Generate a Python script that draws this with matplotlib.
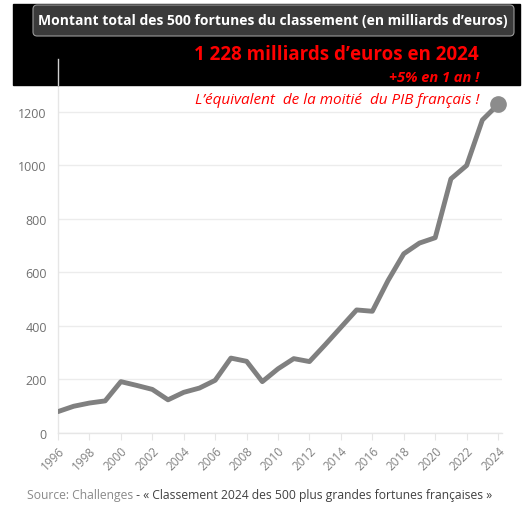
import matplotlib.pyplot as plt
from matplotlib.patches import Rectangle, FancyBboxPatch
from matplotlib.lines import Line2D

# montant total des 500 fortunes (milliards d'euros)
years = list(range(1996, 2025))
values = [80, 100, 112, 120, 192, 178, 163, 124, 152, 168,
          197, 280, 268, 192, 240, 278, 267, 330, 395, 460,
          455, 570, 670, 710, 730, 950, 1000, 1170, 1228]
yticks = [0, 200, 400, 600, 800, 1000, 1200]
xticks = list(range(1996, 2025, 2))

W, H = 526, 506
plt.rcParams['font.family'] = ['Open Sans', 'DejaVu Sans']

fig = plt.figure(figsize=(W / 100, H / 100), dpi=100)
ax = fig.add_axes([58 / W, 72 / H, 444 / W, 374 / H])

ax.plot(years, values, color='#808080', lw=3.5, solid_capstyle='round',
        solid_joinstyle='round', zorder=3)
ax.plot(years[-1], values[-1], 'o', ms=11, color='#8c8c8c', zorder=4,
        clip_on=False)

ax.set_xlim(1996, 2024.25)
ax.set_ylim(0, 1398)
ax.set_yticks(yticks)
ax.set_xticks(xticks)
ax.set_xticklabels([str(x) for x in xticks], rotation=45, ha='right',
                   va='top', rotation_mode='anchor')
ax.tick_params(axis='y', length=0, pad=8, labelsize=9, labelcolor='#707070')
ax.tick_params(axis='x', length=5, width=0.8, color='#e6e6e6', pad=3,
               labelsize=8.5, labelcolor='#808080')
ax.grid(axis='y', color='#ececec', lw=1)
for s in ['top', 'right']:
    ax.spines[s].set_visible(False)
for s in ['left', 'bottom']:
    ax.spines[s].set_color('#e6e6e6')
    ax.spines[s].set_linewidth(1)

# bandeau noir
fig.patches.append(Rectangle((13 / W, (H - 86) / H), 507 / W, 81 / H,
                             transform=fig.transFigure, color='black',
                             zorder=5))
fig.add_artist(Line2D([58 / W, 58 / W], [(H - 86) / H, (H - 60) / H],
                      transform=fig.transFigure, color='#d0d0d0', lw=1,
                      zorder=6))
fig.patches.append(FancyBboxPatch((33 / W, (H - 37) / H), 481 / W, 31 / H,
                                  boxstyle='round,pad=0,rounding_size=0.008',
                                  transform=fig.transFigure,
                                  facecolor='#3a3a3a', edgecolor='#9a9a9a',
                                  lw=0.8, zorder=6))
fig.text(273 / W, (H - 21) / H,
         "Montant total des 500 fortunes du classement (en milliards d\u2019euros)",
         color='white', fontsize=10, fontweight='bold', ha='center',
         va='center', zorder=7)
fig.text(479 / W, (H - 55) / H, "1 228 milliards d\u2019euros en 2024",
         color='#ff0000', fontsize=13.5, fontweight='bold', ha='right',
         va='center', zorder=7)
fig.text(479 / W, (H - 78) / H, "+5% en 1 an !", color='#ff0000',
         fontsize=10.5, fontweight='bold', style='italic', ha='right',
         va='center', zorder=7)
fig.text(479 / W, (H - 100) / H,
         "L\u2019\u00e9quivalent  de la moiti\u00e9  du PIB fran\u00e7ais !",
         color='#ff0000', fontsize=11, style='italic', ha='right',
         va='center', zorder=7)

# source
t = fig.text(27 / W, (H - 496) / H, "Source: Challenges", color='#8a8a8a',
             fontsize=8.7, ha='left', va='center')
fig.canvas.draw()
bb = t.get_window_extent()
fig.text(bb.x1 / W, (H - 496) / H,
         " - \u00ab Classement 2024 des 500 plus grandes fortunes fran\u00e7aises \u00bb",
         color='#404040', fontsize=8.7, ha='left', va='center')

fig.savefig('out.png', dpi=100, facecolor='white')
